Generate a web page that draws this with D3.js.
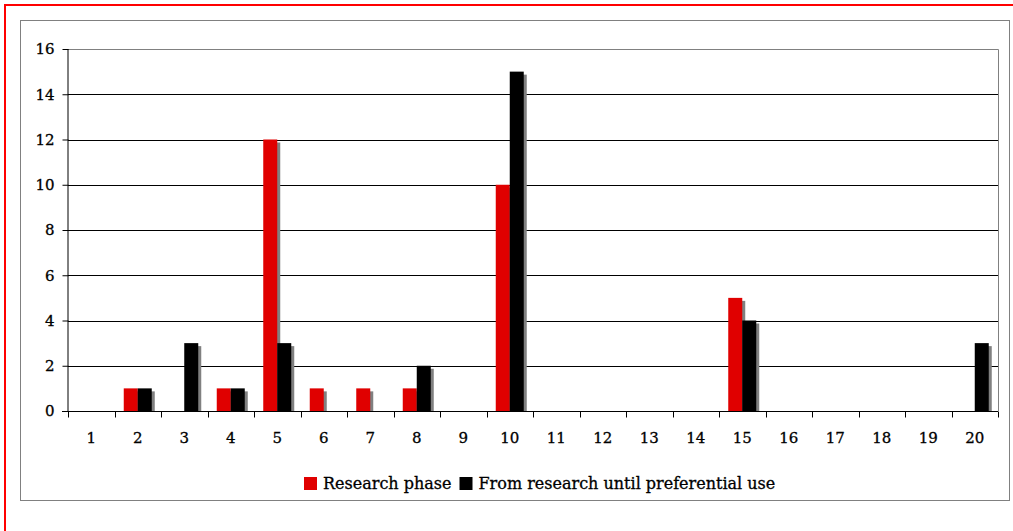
<!DOCTYPE html>
<html>
<head>
<meta charset="utf-8">
<script src="https://cdn.jsdelivr.net/npm/d3@7"></script>
<style>
  html, body { margin: 0; padding: 0; background: #fff; }
  svg { display: block; }
  text { font-family: "DejaVu Serif", "Liberation Serif", serif; fill: #000; stroke: #000; stroke-width: 0.3px; }
</style>
</head>
<body>
<svg id="chart" width="1013" height="531"></svg>
<script>
// Categories along the x axis
const categories = ["1","2","3","4","5","6","7","8","9","10","11","12","13","14","15","16","17","18","19","20"];
// Series values, one per category
const researchPhase = [0,1,0,1,12,1,1,1,0,10,0,0,0,0,5,0,0,0,0,0];
const untilPreferentialUse = [0,1,3,1,3,0,0,2,0,15,0,0,0,0,4,0,0,0,0,3];
const seriesNames = ["Research phase", "From research until preferential use"];
const seriesColors = ["#e00000", "#000000"];
const yTicks = [0,2,4,6,8,10,12,14,16];

const svg = d3.select("#chart");

// Outer frame (red) and chart area frame (grey)
svg.append("rect").attr("x", 5).attr("y", 5).attr("width", 1030).attr("height", 560)
  .attr("fill", "none").attr("stroke", "#ff0000").attr("stroke-width", 2);
svg.append("rect").attr("x", 20.5).attr("y", 20.5).attr("width", 989).attr("height", 480)
  .attr("fill", "none").attr("stroke", "#808080").attr("stroke-width", 1);

const plot = { left: 68, right: 998, top: 49, bottom: 411 };

const x = d3.scaleBand().domain(categories).range([plot.left, plot.right]).paddingInner(0).paddingOuter(0);
const y = d3.scaleLinear().domain([0, 16]).range([plot.bottom, plot.top]);

const barW = 14;
const shadow = 3;

// Gridlines
svg.append("g").selectAll("line").data(yTicks.filter(d => d > 0 && d < 16)).join("line")
  .attr("x1", plot.left).attr("x2", plot.right)
  .attr("y1", d => Math.round(y(d)) + 0.5).attr("y2", d => Math.round(y(d)) + 0.5)
  .attr("stroke", "#000").attr("stroke-width", 1);

// Plot area top and right edges
svg.append("path")
  .attr("d", `M${plot.left},${plot.top + 0.5}H${plot.right + 0.5}V${plot.bottom}`)
  .attr("fill", "none").attr("stroke", "#808080").attr("stroke-width", 1);

// Bars with drop shadows
const series = [researchPhase, untilPreferentialUse];
series.forEach((vals, si) => {
  const g = svg.append("g");
  const data = vals.map((v, i) => ({ c: categories[i], v })).filter(d => d.v > 0);
  const bx = d => x(d.c) + x.bandwidth() / 2 - barW + si * barW;
  g.selectAll("rect.sh").data(data).join("rect").attr("class", "sh")
    .attr("x", d => bx(d) + shadow).attr("y", d => y(d.v) + shadow)
    .attr("width", barW).attr("height", d => Math.max(0, plot.bottom - y(d.v) - shadow))
    .attr("fill", "#808080");
  g.selectAll("rect.bar").data(data).join("rect").attr("class", "bar")
    .attr("x", bx).attr("y", d => y(d.v))
    .attr("width", barW).attr("height", d => plot.bottom - y(d.v))
    .attr("fill", seriesColors[si]);
});

// Y axis
const yAxis = svg.append("g").attr("transform", `translate(${plot.left + 0.5},0)`)
  .call(d3.axisLeft(y).tickValues(yTicks).tickSize(6).tickPadding(8).tickFormat(d3.format("d")));
yAxis.select(".domain").attr("stroke", "#000").attr("d", `M-0.5,${plot.top}V${plot.bottom + 0.5}`);
yAxis.selectAll(".tick line").attr("stroke", "#000");
yAxis.selectAll("text").attr("font-size", 15).attr("font-family", "DejaVu Serif");

// X axis with ticks at category boundaries
const xAxis = svg.append("g").attr("transform", `translate(0,${plot.bottom + 0.5})`);
xAxis.append("line").attr("x1", plot.left - 6).attr("x2", plot.right)
  .attr("stroke", "#000");
const bounds = categories.map(c => x(c)).concat([plot.right]);
xAxis.selectAll("line.tk").data(bounds).join("line").attr("class", "tk")
  .attr("x1", d => Math.round(d) + 0.5).attr("x2", d => Math.round(d) + 0.5)
  .attr("y1", 0).attr("y2", 6).attr("stroke", "#000");
xAxis.selectAll("text").data(categories).join("text")
  .attr("x", d => x(d) + x.bandwidth() / 2).attr("y", 31)
  .attr("text-anchor", "middle").attr("font-size", 15).text(d => d);

// Legend
const legend = svg.append("g").attr("transform", "translate(304,477)");
let lx = 0;
seriesNames.forEach((name, i) => {
  const item = legend.append("g").attr("transform", `translate(${lx},0)`);
  item.append("rect").attr("width", 13).attr("height", 13).attr("fill", seriesColors[i]);
  const t = item.append("text").attr("x", 19).attr("y", 12).attr("font-size", 16).text(name);
  lx += 19 + t.node().getComputedTextLength() + 8;
});
</script>
</body>
</html>
